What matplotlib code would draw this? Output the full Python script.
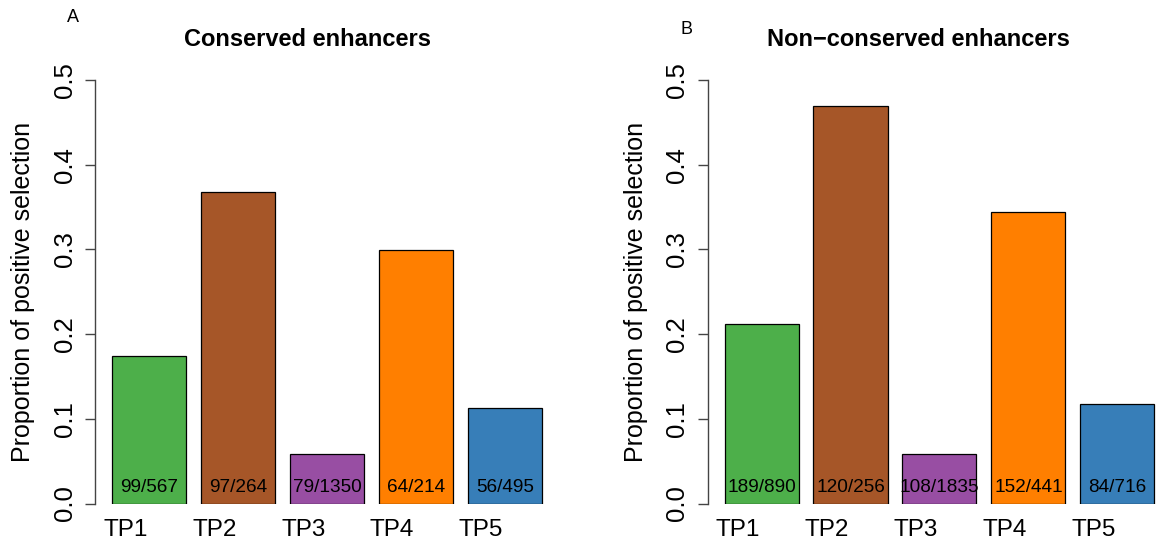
import matplotlib
matplotlib.use("Agg")
import matplotlib.pyplot as plt
import numpy as np

plt.rcParams["font.family"] = ["Liberation Sans", "DejaVu Sans"]

# data
groups = ["TP1", "TP2", "TP3", "TP4", "TP5"]
colors = ["#4DAF4A", "#A65628", "#984EA3", "#FF7F00", "#377EB8"]

cons_prop = [0.1746, 0.3674, 0.0585, 0.2991, 0.1131]
cons_lab = ["99/567", "97/264", "79/1350", "64/214", "56/495"]

noncons_prop = [0.2124, 0.4688, 0.0589, 0.3447, 0.1173]
noncons_lab = ["189/890", "120/256", "108/1835", "152/441", "84/716"]

W, H = 1158, 547
fig = plt.figure(figsize=(W / 100, H / 100), dpi=100)

# bar layout like R barplot (width 1, space 0.2)
centers = 0.7 + 1.2 * np.arange(len(groups))
xlo, xhi = 0.2 - 0.23, 6.0 + 0.23
px_per_unit = 74.1
ax_w = (xhi - xlo) * px_per_unit
y_top, y_bot = 80, 503.5


def panel(left_px, props, labels, title, title_x, letter, letter_xy):
    ax = fig.add_axes([left_px / W, (H - y_bot) / H, ax_w / W, (y_bot - y_top) / H])
    ax.bar(centers, props, width=1.0, color=colors, edgecolor="black", linewidth=0.9)
    ax.set_xlim(xlo, xhi)
    ax.set_ylim(0, 0.5)

    for s in ["top", "right", "bottom"]:
        ax.spines[s].set_visible(False)
    ax.spines["left"].set_color("#444444")
    ax.spines["left"].set_linewidth(1.0)

    ax.set_yticks([0, 0.1, 0.2, 0.3, 0.4, 0.5])
    ax.set_yticklabels(["0.0", "0.1", "0.2", "0.3", "0.4", "0.5"],
                       rotation=90, va="center", fontsize=18.5)
    ax.tick_params(axis="y", length=7.2, width=1.0, color="#444444", pad=6)
    ax.set_xticks([])

    # counts inside bars
    for xc, lab in zip(centers, labels):
        ax.text(xc, 0.0187, lab, ha="center", va="center", fontsize=13.7)

    # group names, drawn a bit left of the bar centres like the original
    for xc, g in zip(centers, groups):
        ax.text(xc - 0.32, -0.031, g, ha="center", va="center", fontsize=17.5,
                clip_on=False)

    fig.text((left_px - 72) / W, 1 - 292 / H, "Proportion of positive selection",
             rotation=90, ha="center", va="center", fontsize=18)
    fig.text(title_x / W, 1 - 40 / H, title, ha="center", va="center",
             fontsize=17, fontweight="bold")
    fig.text(letter_xy[0] / W, 1 - letter_xy[1] / H, letter, ha="center",
             va="center", fontsize=13)
    return ax


panel(95, cons_prop, cons_lab, "Conserved enhancers", 307, "A", (73, 18))
panel(707.5, noncons_prop, noncons_lab, "Non\u2212conserved enhancers", 918, "B", (687, 30))

fig.savefig("out.png", dpi=100)
